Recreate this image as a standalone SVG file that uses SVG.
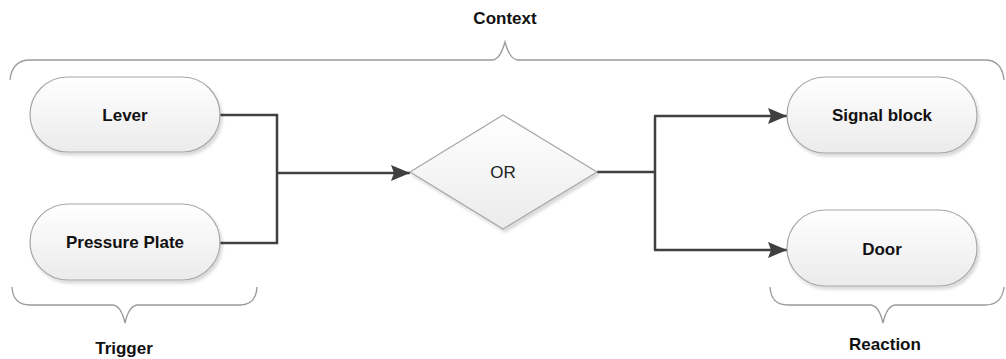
<svg xmlns="http://www.w3.org/2000/svg" width="1006" height="359" viewBox="0 0 1006 359">
<style>
.node{fill:url(#g);stroke:#a6a6a6;stroke-width:1.2}
.lbl{font-family:"Liberation Sans",Arial,sans-serif;font-weight:bold;font-size:17px;fill:#111;text-anchor:middle;dominant-baseline:central}
.reg{font-family:"Liberation Sans",Arial,sans-serif;font-size:17px;fill:#222;text-anchor:middle;dominant-baseline:central}
.brace{fill:none;stroke:#9a9a9a;stroke-width:1.3}
.conn{fill:none;stroke:#404040;stroke-width:2.5}
</style>
<defs>
<linearGradient id="g" x1="0" y1="0" x2="0" y2="1">
<stop offset="0" stop-color="#ffffff"/>
<stop offset="1" stop-color="#ebebeb"/>
</linearGradient>
<filter id="sh" x="-10%" y="-10%" width="130%" height="140%">
<feDropShadow dx="2" dy="3" stdDeviation="1.5" flood-color="#000" flood-opacity="0.15"/>
</filter>
<marker id="arr" markerWidth="19" markerHeight="16" refX="19" refY="8" orient="auto" markerUnits="userSpaceOnUse" viewBox="0 0 19 16">
<path d="M0,0 L19,8 L0,16 L3,8 Z" fill="#404040"/>
</marker>
</defs>
<rect width="1006" height="359" fill="#fff"/>

<g id="braces">
<path class="brace" d="M10,80 Q12,60 30,60 L492,60 Q500,60 505,42 Q510,60 518,60 L985,60 Q1002,60 1004,80"/>
<path class="brace" d="M12,287 Q13,305 30,305 L112,305 Q121,305 125,323 Q129,305 138,305 L240,305 Q256,305 257,287"/>
<path class="brace" d="M770,287 Q771,305 788,305 L870,305 Q879,305 883,323 Q887,305 896,305 L985,305 Q1002,305 1004,287"/>
</g>

<g id="context"><text class="lbl" x="505" y="18" font-size="16">Context</text></g>
<g id="trigger"><text class="lbl" x="124" y="348">Trigger</text></g>
<g id="reaction"><text class="lbl" x="885" y="344">Reaction</text></g>

<g id="connectors">
<path class="conn" d="M220,115 L277,115 L277,243 L220,243"/>
<path class="conn" d="M277,173 L410,173" marker-end="url(#arr)"/>
<path class="conn" d="M597,172 L655,172"/>
<path class="conn" d="M655,116 L655,250"/>
<path class="conn" d="M654,116 L787,116" marker-end="url(#arr)"/>
<path class="conn" d="M654,250 L787,250" marker-end="url(#arr)"/>
</g>

<g id="lever">
<rect class="node" filter="url(#sh)" x="30" y="77" width="190" height="75" rx="37.5"/>
<text class="lbl" x="125" y="115">Lever</text>
</g>
<g id="pressure">
<rect class="node" filter="url(#sh)" x="30" y="204" width="190" height="76" rx="38"/>
<text class="lbl" x="125" y="242">Pressure Plate</text>
</g>
<g id="or">
<polygon class="node" filter="url(#sh)" points="410,172 503,115 597,172 503,229"/>
<text class="reg" x="503" y="172">OR</text>
</g>
<g id="signal">
<rect class="node" filter="url(#sh)" x="787" y="77" width="190" height="76" rx="38"/>
<text class="lbl" x="882" y="115">Signal block</text>
</g>
<g id="door">
<rect class="node" filter="url(#sh)" x="787" y="210" width="190" height="76" rx="38"/>
<text class="lbl" x="882" y="249">Door</text>
</g>
</svg>
